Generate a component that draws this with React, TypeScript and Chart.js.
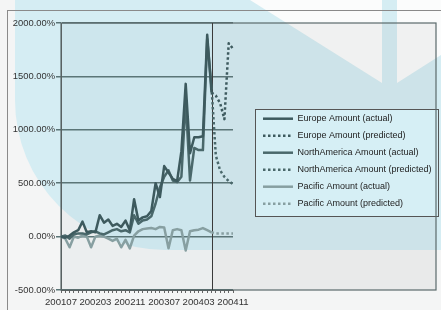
import React, { useEffect, useRef } from 'react';
import { Chart, registerables } from 'chart.js';

Chart.register(...registerables);

const months = [
  '200107', '200108', '200109', '200110', '200111', '200112',
  '200201', '200202', '200203', '200204', '200205', '200206', '200207', '200208', '200209', '200210', '200211', '200212',
  '200301', '200302', '200303', '200304', '200305', '200306', '200307', '200308', '200309', '200310', '200311', '200312',
  '200401', '200402', '200403', '200404', '200405', '200406', '200407', '200408', '200409', '200410', '200411',
];

const tickLabels = ['200107', '200203', '200211', '200307', '200403', '200411'];
const yTicks = [-500, 0, 500, 1000, 1500, 2000];

// actual values, 200107 .. 200406
const europeActual = [0, -10, 10, 40, 60, 140, 40, 50, 40, 200, 130, 160, 100, 120, 90, 150, 60, 350, 150, 180, 190, 240, 500, 370, 660, 600, 540, 520, 800, 1430, 780, 930, 930, 940, 1890, 1350];
const naActual = [0, 10, -20, 20, 30, 30, 20, 40, 50, 30, 20, 40, 60, 70, 50, 60, 40, 200, 120, 150, 160, 190, 310, 460, 560, 620, 525, 510, 560, 1280, 525, 830, 810, 810, 1850, 1400];
const pacificActual = [0, -20, -100, 0, -10, 10, 0, -100, 0, 10, 0, -20, -40, -20, -100, -30, -110, 10, 50, 70, 75, 80, 70, 90, 85, -110, 60, 70, 60, -130, 50, 60, 65, 80, 60, 40];

// predicted values, 200406 .. 200411
const europePredicted = [1350, 1320, 1250, 1100, 1810, 1760];
const naPredicted = [1400, 760, 620, 560, 520, 490];
const pacificPredicted = [40, 30, 30, 30, 30, 30];

const lastActualIndex = europeActual.length - 1;

const padActual = (arr: number[]) => months.map((_, i) => (i < arr.length ? arr[i] : null));
const padPred = (arr: number[]) => months.map((_, i) => (i >= lastActualIndex && i - lastActualIndex < arr.length ? arr[i - lastActualIndex] : null));

const C_EU = '#3d5a5e';
const C_NA = '#4a686b';
const C_PA = '#879fa1';
const DASH = [2.5, 2.5];

const bgPlugin = {
  id: 'bgPlugin',
  beforeDraw(chart: any) {
    const { ctx, width, height, chartArea, scales, legend } = chart;
    ctx.save();
    ctx.fillStyle = '#f4f5f5';
    ctx.fillRect(0, 0, width, height);
    // light blue watermark
    ctx.fillStyle = '#d5edf3';
    ctx.beginPath();
    ctx.moveTo(15, 0);
    ctx.lineTo(15, 100);
    ctx.arc(165, 100, 150, Math.PI, Math.PI / 2, true);
    ctx.lineTo(width, 250);
    ctx.lineTo(width, 0);
    ctx.closePath();
    ctx.fill();
    ctx.fillStyle = '#fbfcfc';
    ctx.beginPath();
    ctx.moveTo(250, 0);
    ctx.lineTo(382, 0);
    ctx.lineTo(382, 83);
    ctx.closePath();
    ctx.fill();
    ctx.beginPath();
    ctx.moveTo(397, 0);
    ctx.lineTo(width, 0);
    ctx.lineTo(width, 55);
    ctx.lineTo(397, 83);
    ctx.closePath();
    ctx.fill();
    // outer frame
    ctx.strokeStyle = '#8a8a8a';
    ctx.lineWidth = 1;
    ctx.beginPath();
    ctx.moveTo(7, 10.5);
    ctx.lineTo(width, 10.5);
    ctx.moveTo(7.5, 10);
    ctx.lineTo(7.5, height);
    ctx.stroke();
    // actual region tint
    const xv = scales.x.getPixelForValue(lastActualIndex);
    ctx.fillStyle = 'rgba(0,60,80,0.035)';
    ctx.fillRect(chartArea.left, chartArea.top, xv - chartArea.left, chartArea.bottom - chartArea.top);
    // predicted region shading
    ctx.fillStyle = 'rgba(110,110,110,0.08)';
    ctx.fillRect(xv, chartArea.top, width - 5 - xv, chartArea.bottom - chartArea.top);
    // legend box
    if (legend && legend.legendHitBoxes && legend.legendHitBoxes.length) {
      const hb = legend.legendHitBoxes;
      const top = Math.round(hb[0].top - 5) + 0.5;
      const bottom = Math.round(hb[hb.length - 1].top + hb[hb.length - 1].height + 8) + 0.5;
      const left = legend.left + 0.5;
      const right = width - 2.5;
      ctx.fillStyle = '#d6eff5';
      ctx.fillRect(left, top, right - left, bottom - top);
      ctx.strokeStyle = '#555';
      ctx.lineWidth = 1;
      ctx.strokeRect(left, top, right - left, bottom - top);
    }
    ctx.restore();
  },
  beforeDatasetsDraw(chart: any) {
    const { ctx, width, chartArea, scales } = chart;
    ctx.save();
    ctx.strokeStyle = '#5a6a6c';
    ctx.lineWidth = 1.2;
    ctx.strokeRect(chartArea.left, chartArea.top, width - 5 - chartArea.left, chartArea.bottom - chartArea.top);
    const xv = Math.round(scales.x.getPixelForValue(lastActualIndex)) + 0.5;
    ctx.strokeStyle = '#3a3a3a';
    ctx.lineWidth = 1;
    ctx.beginPath();
    ctx.moveTo(xv, chartArea.top);
    ctx.lineTo(xv, chartArea.bottom);
    ctx.stroke();
    ctx.restore();
  },
};

export default function App() {
  const ref = useRef<HTMLCanvasElement>(null);
  useEffect(() => {
    Chart.defaults.font.family = '"Liberation Sans", Arial, sans-serif';
    const mk = (label: string, data: (number | null)[], color: string, dashed: boolean) => ({
      label,
      data,
      borderColor: color,
      backgroundColor: color,
      borderWidth: 2.5,
      borderDash: dashed ? DASH : [],
      borderCapStyle: 'butt' as const,
      borderJoinStyle: 'round' as const,
      pointRadius: 0,
      pointHoverRadius: 0,
      tension: 0,
      fill: false,
      spanGaps: false,
    });
    const chart = new Chart(ref.current!, {
      type: 'line',
      data: {
        labels: months,
        datasets: [
          mk('Europe Amount (actual)', padActual(europeActual), C_EU, false),
          mk('Europe Amount (predicted)', padPred(europePredicted), C_EU, true),
          mk('NorthAmerica Amount (actual)', padActual(naActual), C_NA, false),
          mk('NorthAmerica Amount (predicted)', padPred(naPredicted), C_NA, true),
          mk('Pacific Amount (actual)', padActual(pacificActual), C_PA, false),
          mk('Pacific Amount (predicted)', padPred(pacificPredicted), C_PA, true),
        ],
      },
      options: {
        responsive: false,
        devicePixelRatio: 1,
        animation: false,
        layout: { padding: { left: 0, top: 23, right: 0, bottom: 0 } },
        plugins: {
          tooltip: { enabled: false },
          legend: {
            position: 'right',
            align: 'start',
            maxWidth: 186,
            title: { display: true, text: '', padding: { top: 0, bottom: 82 }, font: { size: 1 } },
            labels: {
              usePointStyle: true,
              pointStyle: 'line',
              pointStyleWidth: 30,
              padding: 8,
              color: '#222',
              font: { size: 9 },
              generateLabels: (c: any) => {
                const items = Chart.defaults.plugins.legend.labels.generateLabels(c);
                return items.map((it: any) => {
                  const ds = c.data.datasets[it.datasetIndex];
                  return { ...it, lineDash: ds.borderDash, lineWidth: 2.5, strokeStyle: ds.borderColor, lineCap: 'butt' };
                });
              },
            },
          },
        },
        scales: {
          x: {
            grid: { drawOnChartArea: false, drawTicks: true, tickLength: 3, color: '#666' },
            border: { color: '#555', width: 1 },
            ticks: {
              autoSkip: false,
              maxRotation: 0,
              minRotation: 0,
              padding: 4,
              color: '#333',
              font: { size: 9.6 },
              callback: (_v: any, i: number) => (tickLabels.includes(months[i]) ? months[i] : ''),
            },
            afterFit: (s: any) => { s.height = 20; },
          },
          y: {
            min: yTicks[0],
            max: yTicks[yTicks.length - 1],
            afterBuildTicks: (s: any) => { s.ticks = yTicks.map((v) => ({ value: v })); },
            grid: { color: '#5b7577', lineWidth: 1.5, tickLength: 5, drawTicks: true },
            border: { color: '#555', width: 1 },
            ticks: {
              padding: 1,
              color: '#333',
              font: { size: 9.4 },
              callback: (v: any) => Number(v).toFixed(2) + '%',
            },
            afterFit: (s: any) => { s.width = 61; },
          },
          y2: {
            position: 'right',
            display: true,
            grid: { display: false },
            border: { display: false },
            ticks: { display: false },
            afterFit: (s: any) => { s.width = 22; },
          },
        },
      },
      plugins: [bgPlugin],
    } as any);
    return () => chart.destroy();
  }, []);
  return (
    <div style={{ position: 'fixed', left: 0, top: 0, width: 441, height: 310 }}>
      <canvas ref={ref} width={441} height={310} style={{ display: 'block', width: 441, height: 310 }} />
    </div>
  );
}
